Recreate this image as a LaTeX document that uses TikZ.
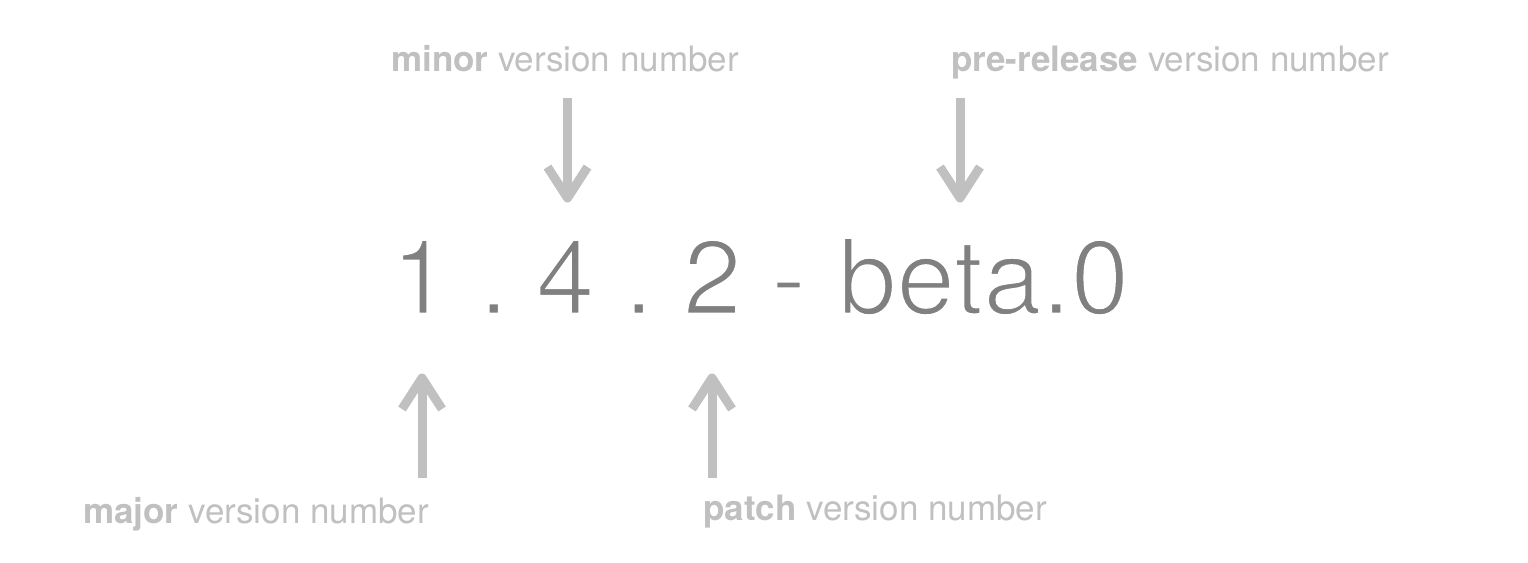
\documentclass[tikz,border=0pt]{standalone}
\usepackage{fontspec}
\setmainfont{TeX Gyre Heros}
\usetikzlibrary{calc}
\definecolor{lbl}{HTML}{C0C0C0}
\definecolor{num}{HTML}{808080}
\newcommand{\thintext}[1]{\special{pdf:literal direct 2 Tr 1 G 2.6 w}#1\special{pdf:literal direct 0 Tr}}
\tikzset{
  lab/.style={anchor=base west, inner sep=0pt, text=lbl, font=\fontsize{35}{40}\selectfont},
  ver/.style={anchor=base west, inner sep=0pt, text=num, font=\fontsize{105}{110}\selectfont},
  shaft/.style={draw=lbl, line width=9pt, line cap=butt},
  chev/.style={draw=lbl, line width=9pt, line cap=butt, line join=round},
}
\begin{document}
\begin{tikzpicture}[x=1pt,y=-1pt]
\useasboundingbox (0,0) rectangle (1528,562);
% version string
\node[ver] (v1) at (391,314) {\thintext{1}};
\node[ver] (d1) at (479,314) {\thintext{.}};
\node[ver] (v4) at (536,314) {\thintext{4}};
\node[ver] (d2) at (624,314) {\thintext{.}};
\node[ver] (v2) at (683,314) {\thintext{2}};
\node[ver] (hy) at (771,314) {\thintext{-}};
\node[ver] (pre) at (838,314) {\thintext{beta.0}};
% labels
\node[lab] (lminor) at (391,71) {\textbf{minor} version number};
\node[lab] (lpre) at (951,71) {\textbf{pre-release} version number};
\node[lab] (lmajor) at (83,523) {\textbf{major} version number};
\node[lab] (lpatch) at (703,520) {\textbf{patch} version number};
% arrow coordinates
\coordinate (aminS) at (567.5,98);  \coordinate (aminT) at (567.5,198);
\coordinate (apreS) at (960,98);    \coordinate (apreT) at (960,198);
\coordinate (amajS) at (422,478);   \coordinate (amajT) at (422,378);
\coordinate (apatS) at (712,478);   \coordinate (apatT) at (712,378);
% down arrows
\draw[shaft] (aminS) -- ($(aminT)+(0,-4)$);
\draw[chev] ($(aminT)+(-20,-31)$) -- (aminT) -- ($(aminT)+(20,-31)$);
\draw[shaft] (apreS) -- ($(apreT)+(0,-4)$);
\draw[chev] ($(apreT)+(-20,-31)$) -- (apreT) -- ($(apreT)+(20,-31)$);
% up arrows
\draw[shaft] (amajS) -- ($(amajT)+(0,4)$);
\draw[chev] ($(amajT)+(-20,31)$) -- (amajT) -- ($(amajT)+(20,31)$);
\draw[shaft] (apatS) -- ($(apatT)+(0,4)$);
\draw[chev] ($(apatT)+(-20,31)$) -- (apatT) -- ($(apatT)+(20,31)$);
\end{tikzpicture}
\end{document}
